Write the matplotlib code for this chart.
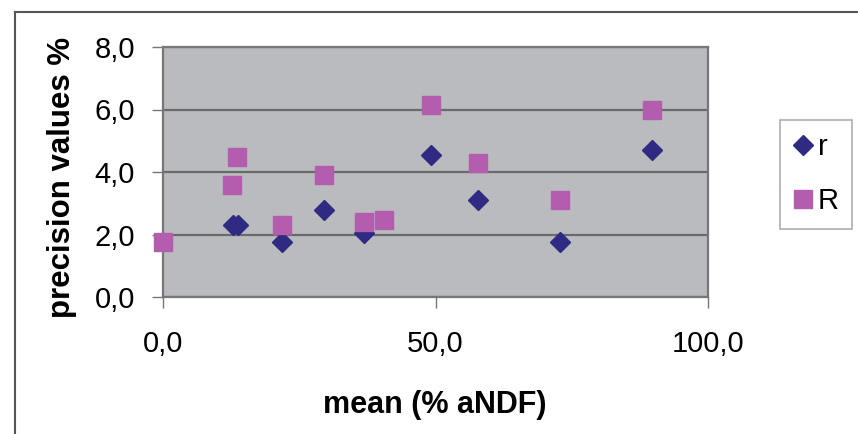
import matplotlib
matplotlib.use("Agg")
import matplotlib.pyplot as plt
from matplotlib.lines import Line2D

plt.rcParams['font.family'] = ['Liberation Sans', 'DejaVu Sans']

# r (repeatability) values
r_mean = [12.9, 13.8, 21.8, 29.5, 36.8, 49.2, 57.8, 72.8, 89.7]
r_prec = [2.30, 2.30, 1.75, 2.78, 2.04, 4.54, 3.10, 1.76, 4.72]

# R (reproducibility) values
R_mean = [0.0, 12.7, 13.6, 21.8, 29.5, 36.8, 40.5, 49.2, 57.8, 72.8, 89.7]
R_prec = [1.76, 3.58, 4.47, 2.30, 3.90, 2.39, 2.46, 6.14, 4.30, 3.10, 5.98]

x_ticks = [0, 50, 100]
y_ticks = [0, 2, 4, 6, 8]

W, H = 858, 434
fig = plt.figure(figsize=(W / 100, H / 100), dpi=100)
ax = fig.add_axes([163 / W, 1 - 297 / H, 545 / W, 250 / H])
ax.set_facecolor('#b9bbbf')

ax.set_xlim(0, 100)
ax.set_ylim(0, 8)
ax.set_xticks(x_ticks)
ax.set_yticks(y_ticks)
ax.set_xticklabels([f"{v:.1f}".replace('.', ',') for v in x_ticks], fontsize=21)
ax.set_yticklabels([f"{v:.1f}".replace('.', ',') for v in y_ticks], fontsize=21)
ax.tick_params(axis='x', length=8, width=1, color='#777777', pad=16)
ax.tick_params(axis='y', length=8, width=1, color='#777777', pad=12)

ax.grid(axis='y', color='#6a6a6a', linewidth=1.6)
ax.set_axisbelow(True)
for s in ax.spines.values():
    s.set_color('#777777')
    s.set_linewidth(1.6)

ax.plot(r_mean, r_prec, linestyle='none', marker='D', markersize=10.5,
        color='#2f2a82', clip_on=False, zorder=3)
ax.plot(R_mean, R_prec, linestyle='none', marker='s', markersize=13,
        color='#b45cae', clip_on=False, zorder=4)

fig.text(435 / W, 1 - 405 / H, 'mean (% aNDF)', fontsize=22,
         fontweight='bold', ha='center', va='center')
fig.text(62 / W, 1 - 177 / H, 'precision values %', fontsize=22.5,
         fontweight='bold', ha='center', va='center', rotation=90)

handles = [
    Line2D([], [], linestyle='none', marker='D', markersize=10.5, color='#2f2a82'),
    Line2D([], [], linestyle='none', marker='s', markersize=13, color='#b45cae'),
]
leg = fig.legend(handles, ['r', 'R'], loc='upper left',
                 bbox_to_anchor=(780 / W, 1 - 120 / H), fontsize=21,
                 frameon=True, fancybox=False, handlelength=0.7,
                 handletextpad=0.15, borderpad=0.45, labelspacing=0.9,
                 borderaxespad=0)
leg.get_frame().set_edgecolor('#999999')
leg.get_frame().set_linewidth(1.2)

# outer chart frame (open to the right and bottom)
fig.add_artist(Line2D([15 / W, 1], [1 - 12 / H, 1 - 12 / H],
                      color='#555555', linewidth=1.5))
fig.add_artist(Line2D([15 / W, 15 / W], [1 - 12 / H, 0],
                      color='#555555', linewidth=1.5))

fig.savefig('out.png', dpi=100)
